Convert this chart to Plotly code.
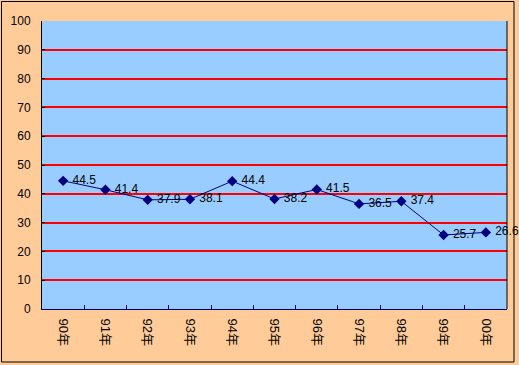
import plotly.graph_objects as go

categories = ["90年", "91年", "92年", "93年", "94年", "95年", "96年", "97年", "98年", "99年", "00年"]
values = [44.5, 41.4, 37.9, 38.1, 44.4, 38.2, 41.5, 36.5, 37.4, 25.7, 26.6]
y_ticks = [0, 10, 20, 30, 40, 50, 60, 70, 80, 90, 100]

W, H = 519, 365
L, R, T, B = 42, 12, 21, 56
pw, ph = W - L - R, H - T - B

def px_x(px):
    return (px - L) / pw

def px_y(py):
    return (H - B - py) / ph

x_idx = list(range(len(categories)))

fig = go.Figure()
fig.add_trace(go.Scatter(
    x=x_idx, y=values,
    mode="lines+markers+text",
    line=dict(color="#000080", width=1),
    marker=dict(symbol="diamond", size=8, color="#000080"),
    text=[f" {v:.1f}" for v in values],
    textposition="middle right",
    textfont=dict(family="Liberation Sans, Arial, sans-serif", size=12, color="#000000"),
    cliponaxis=False,
    hoverinfo="skip",
))

fig.update_layout(
    width=W, height=H,
    margin=dict(l=L, r=R, t=T, b=B),
    paper_bgcolor="#FFCC99",
    plot_bgcolor="#99CCFF",
    showlegend=False,
    font=dict(family="Liberation Sans, Noto Sans CJK JP, sans-serif", size=12, color="#000000"),
    xaxis=dict(
        range=[-0.5, len(categories) - 0.5],
        tickmode="array",
        tickvals=x_idx,
        ticktext=categories,
        tickangle=90,
        tickfont=dict(size=13),
        ticks="",
        ticklabelstandoff=6,
        showgrid=False,
        zeroline=False,
        showline=True, linecolor="#000080", linewidth=1,
        minor=dict(tickmode="array", tickvals=[i + 0.5 for i in x_idx[:-1]],
                   ticks="inside", ticklen=4, tickcolor="#000080", showgrid=False),
        fixedrange=True,
    ),
    yaxis=dict(
        range=[0, 100],
        tickmode="array",
        tickvals=y_ticks,
        ticks="inside", ticklen=3, tickcolor="#000000",
        showgrid=True, gridcolor="#FF0000", gridwidth=2,
        zeroline=False,
        showline=True, linecolor="#000000", linewidth=1,
        ticklabelstandoff=8,
        fixedrange=True,
    ),
    shapes=[
        dict(type="line", xref="paper", yref="paper", x0=1, x1=1, y0=0, y1=1,
             line=dict(color="#000000", width=1)),
        dict(type="rect", xref="paper", yref="paper",
             x0=px_x(1.5), x1=px_x(514), y0=px_y(1.5), y1=px_y(362),
             line=dict(color="#000000", width=1), fillcolor="rgba(0,0,0,0)", layer="above"),
    ],
)

fig.write_html("out.html")
